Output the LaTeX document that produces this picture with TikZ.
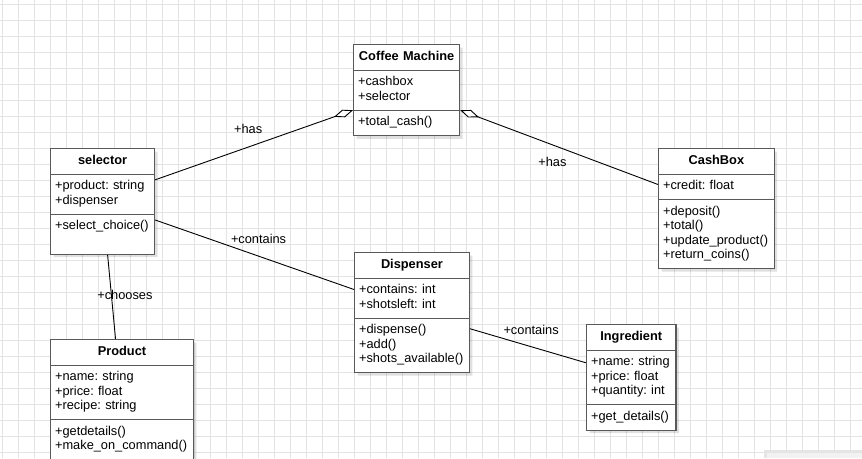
\documentclass[tikz,border=0pt]{standalone}
\usepackage{fontspec}
\setmainfont{Liberation Sans}
\usetikzlibrary{shapes.multipart, arrows.meta, shadows}
\frenchspacing

\begin{document}
\begin{tikzpicture}[x=1pt, y=-1pt,
    gridline/.style={black!11, line width=0.6pt},
    umlclass/.style={rectangle split, rectangle split parts=3, anchor=north west,
      draw=black!65, line width=1.2pt, fill=white, inner xsep=4.5pt, inner ysep=5pt,
      align=left, font=\fontsize{12.8}{14.4}\selectfont,
      drop shadow={shadow xshift=3pt, shadow yshift=-3pt, opacity=0.12, fill=black}},
    has/.style={{Diamond[fill=white, length=20pt, width=8pt]}-, line width=0.9pt},
    assoc/.style={line width=0.9pt},
    lbl/.style={font=\fontsize{12.8}{14.4}\selectfont, inner sep=0pt}]
  \useasboundingbox (0,0) rectangle (862,458);

  % background grid
  \foreach \x in {2.7,18.7,...,862} \draw[gridline] (\x,0) -- (\x,458);
  \foreach \y in {4.3,20.3,...,458} \draw[gridline] (0,\y) -- (862,\y);
  \fill[black!10] (764,450) rectangle (862,458);
  \fill[black!5] (767,453) rectangle (862,458);

  % classes
  \node[umlclass, text width=97pt] (cm) at (353,44)
    {\makebox[\linewidth]{\strut\textbf{Coffee Machine}}
     \nodepart{two}\strut+cashbox\\\strut+selector
     \nodepart{three}\strut+total\_cash()};

  \node[umlclass, text width=95pt] (selector) at (50,148)
    {\makebox[\linewidth]{\strut\textbf{selector}}
     \nodepart{two}\strut+product: string\\\strut+dispenser
     \nodepart{three}\strut+select\_choice()\\\strut};

  \node[umlclass, text width=106.6pt] (cashbox) at (658,148)
    {\makebox[\linewidth]{\strut\textbf{CashBox}}
     \nodepart{two}\strut+credit: float
     \nodepart{three}\strut+deposit()\\\strut+total()\\\strut+update\_product()\\\strut+return\_coins()};

  \node[umlclass, text width=105.7pt] (dispenser) at (354,252)
    {\makebox[\linewidth]{\strut\textbf{Dispenser}}
     \nodepart{two}\strut+contains: int\\\strut+shotsleft: int
     \nodepart{three}\strut+dispense()\\\strut+add()\\\strut+shots\_available()};

  \node[umlclass, text width=133.7pt] (product) at (50,339)
    {\makebox[\linewidth]{\strut\textbf{Product}}
     \nodepart{two}\strut+name: string\\\strut+price: float\\\strut+recipe: string
     \nodepart{three}\strut+getdetails()\\\strut+make\_on\_command()};

  \node[umlclass, text width=80.3pt] (ingredient) at (586,324)
    {\makebox[\linewidth]{\strut\textbf{Ingredient}}
     \nodepart{two}\strut+name: string\\\strut+price: float\\\strut+quantity: int
     \nodepart{three}\strut+get\_details()};

  % associations
  \draw[has] (cm.two split west) -- ([yshift=-5.6pt]selector.text split east)
    node[lbl, pos=0.53, yshift=18pt] {+has};
  \draw[has] (cm.two split east) -- ([yshift=-10.3pt]cashbox.text split west)
    node[lbl, pos=0.466, yshift=-17pt] {+has};
  \draw[assoc] ([yshift=-5.8pt]selector.two split east) -- ([yshift=-11.3pt]dispenser.text split west)
    node[lbl, pos=0.52, yshift=17pt] {+contains};
  \draw[assoc] ([xshift=5pt]selector.south) -- ([xshift=-6.4pt]product.north)
    node[lbl, pos=0.48, xshift=13.5pt] {+chooses};
  \draw[assoc] ([yshift=-10.5pt]dispenser.two split east) -- ([yshift=-12.6pt]ingredient.text split west)
    node[lbl, pos=0.527, yshift=17pt] {+contains};
\end{tikzpicture}
\end{document}
